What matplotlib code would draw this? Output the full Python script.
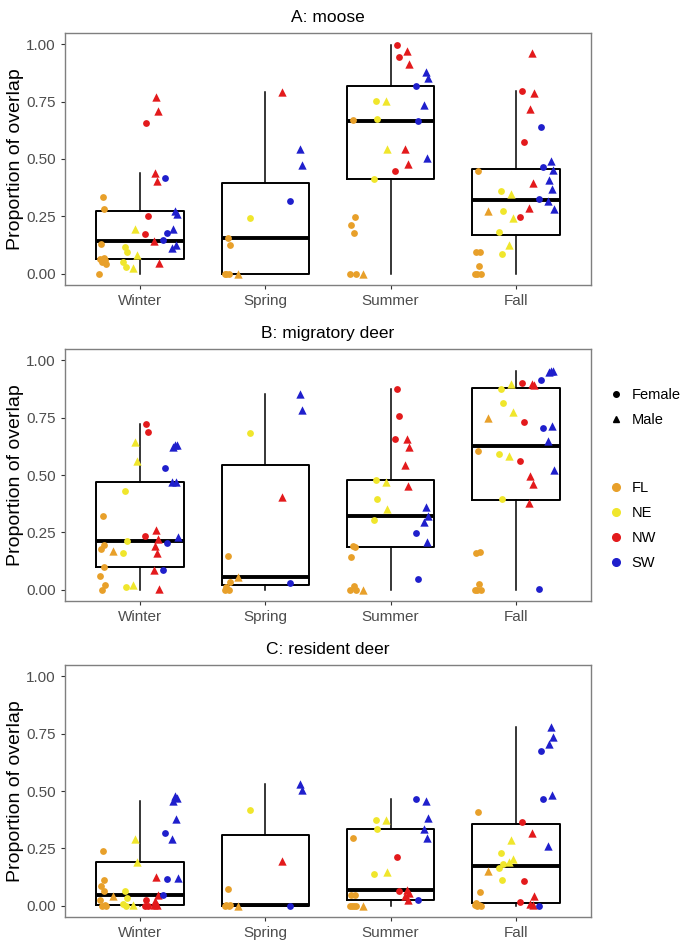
"""
Seasonal overlap proportions: moose, migratory deer, resident deer
"""
import numpy as np
import matplotlib.pyplot as plt
from matplotlib.lines import Line2D

plt.rcParams['font.family'] = ['Liberation Sans', 'DejaVu Sans']

seasons = ['Winter', 'Spring', 'Summer', 'Fall']
regions = ['FL', 'NE', 'NW', 'SW']
region_colors = {'FL': '#E8A02A', 'NE': '#F0E62C', 'NW': '#E31A1C', 'SW': '#1F1FCC'}
panel_titles = ['A: moose', 'B: migratory deer', 'C: resident deer']
y_ticks = [0.0, 0.25, 0.5, 0.75, 1.0]

# region -> (female values, male values)
moose_winter = {
    'FL': ([0.334, 0.283, 0.131, 0.068, 0.062, 0.058, 0.050, 0.042, 0.0], []),
    'NE': ([0.115, 0.092, 0.051, 0.028], [0.193, 0.083, 0.025]),
    'NW': ([0.658, 0.251, 0.173], [0.769, 0.711, 0.440, 0.404, 0.141, 0.048]),
    'SW': ([0.419, 0.177, 0.147], [0.273, 0.262, 0.193, 0.124, 0.113]),
}
moose_spring = {
    'FL': ([0.154, 0.126, 0.0, 0.0, 0.0], [0.0]),
    'NE': ([0.244], []),
    'NW': ([], [0.792]),
    'SW': ([0.318], [0.542, 0.472]),
}
moose_summer = {
    'FL': ([0.669, 0.249, 0.212, 0.179, 0.0, 0.0], [0.0]),
    'NE': ([0.754, 0.676, 0.411], [0.754, 0.545]),
    'NW': ([0.996, 0.946, 0.448], [0.972, 0.914, 0.542, 0.478]),
    'SW': ([0.820, 0.667], [0.879, 0.852, 0.735, 0.504]),
}
moose_fall = {
    'FL': ([0.448, 0.096, 0.092, 0.033, 0.0, 0.0, 0.0], [0.275]),
    'NE': ([0.359, 0.275, 0.180, 0.086], [0.347, 0.244, 0.125]),
    'NW': ([0.797, 0.574, 0.249], [0.964, 0.789, 0.718, 0.395, 0.286]),
    'SW': ([0.640, 0.464, 0.327], [0.493, 0.451, 0.408, 0.369, 0.318, 0.283]),
}

mig_winter = {
    'FL': ([0.322, 0.196, 0.177, 0.100, 0.058, 0.020, 0.0], [0.167]),
    'NE': ([0.430, 0.210, 0.158, 0.013], [0.645, 0.561, 0.022]),
    'NW': ([0.723, 0.687, 0.235], [0.259, 0.220, 0.188, 0.159, 0.084, 0.003]),
    'SW': ([0.530, 0.203, 0.087], [0.633, 0.633, 0.623, 0.470, 0.470, 0.230]),
}
mig_spring = {
    'FL': ([0.148, 0.033, 0.012, 0.0, 0.0], [0.055]),
    'NE': ([0.683], []),
    'NW': ([], [0.406]),
    'SW': ([0.028], [0.852, 0.783]),
}
mig_summer = {
    'FL': ([0.188, 0.187, 0.142, 0.017, 0.0, 0.0], [0.0]),
    'NE': ([0.477, 0.394, 0.304], [0.468, 0.352]),
    'NW': ([0.875, 0.759, 0.658], [0.655, 0.623, 0.545, 0.454]),
    'SW': ([0.249, 0.048], [0.362, 0.322, 0.293, 0.206]),
}
mig_fall = {
    'FL': ([0.603, 0.165, 0.161, 0.025, 0.0, 0.0, 0.0], [0.749]),
    'NE': ([0.874, 0.816, 0.593, 0.394], [0.897, 0.777, 0.584]),
    'NW': ([0.901, 0.733, 0.559], [0.899, 0.891, 0.497, 0.459, 0.377]),
    'SW': ([0.916, 0.703, 0.004], [0.952, 0.952, 0.949, 0.714, 0.649, 0.523]),
}

res_winter = {
    'FL': ([0.240, 0.110, 0.087, 0.062, 0.023, 0.001, 0.0, 0.0], [0.041]),
    'NE': ([0.062, 0.031, 0.007, 0.0], [0.292, 0.189, 0.001]),
    'NW': ([0.026, 0.0, 0.0], [0.125, 0.044, 0.019, 0.004, 0.004]),
    'SW': ([0.315, 0.116, 0.047], [0.480, 0.468, 0.455, 0.379, 0.289, 0.121]),
}
res_spring = {
    'FL': ([0.071, 0.004, 0.004, 0.0, 0.0], [0.0]),
    'NE': ([0.419], []),
    'NW': ([], [0.195]),
    'SW': ([0.0], [0.529, 0.504]),
}
res_summer = {
    'FL': ([0.295, 0.045, 0.045, 0.0, 0.0, 0.0, 0.0], [0.0]),
    'NE': ([0.372, 0.336, 0.137], [0.375, 0.147]),
    'NW': ([0.211, 0.065], [0.067, 0.055, 0.041, 0.026]),
    'SW': ([0.467, 0.026], [0.456, 0.381, 0.334, 0.297]),
}
res_fall = {
    'FL': ([0.410, 0.058, 0.012, 0.001, 0.001, 0.0, 0.0], [0.150]),
    'NE': ([0.228, 0.180, 0.166, 0.113], [0.286, 0.205, 0.189]),
    'NW': ([0.366, 0.106, 0.016], [0.318, 0.041, 0.007, 0.003]),
    'SW': ([0.676, 0.467, 0.0], [0.779, 0.736, 0.706, 0.481, 0.259]),
}

panels = [
    [moose_winter, moose_spring, moose_summer, moose_fall],
    [mig_winter, mig_spring, mig_summer, mig_fall],
    [res_winter, res_spring, res_summer, res_fall],
]

# dodge positions (x offsets from season centre)
region_offset = {'FL': -0.26, 'NE': -0.08, 'NW': 0.09, 'SW': 0.24}
sex_offset = [-0.04, 0.04]
spread = [0.0, 0.5, -0.5, 0.25, -0.75, 0.75, -0.25, 1.0, -1.0]
spread_w = 0.03


def draw_panel(ax, season_data, title):
    box_data = []
    for sd in season_data:
        vals = []
        for r in regions:
            vals += sd[r][0] + sd[r][1]
        box_data.append(vals)

    ax.boxplot(box_data, positions=range(1, 5), widths=0.7, whis=1.5,
               showfliers=False, showcaps=False,
               boxprops=dict(color='black', lw=1.4),
               whiskerprops=dict(color='black', lw=1.1),
               medianprops=dict(color='black', lw=2.8), zorder=1)

    for i, sd in enumerate(season_data):
        for r in regions:
            for s, marker, size in [(0, 'o', 24), (1, '^', 36)]:
                vals = sd[r][s]
                xs = [i + 1 + region_offset[r] + sex_offset[s] +
                      spread[k % len(spread)] * spread_w for k in range(len(vals))]
                ax.scatter(xs, vals, marker=marker, s=size, color=region_colors[r],
                           linewidths=0, zorder=3)

    ax.set_xlim(0.4, 4.6)
    ax.set_ylim(-0.05, 1.05)
    ax.set_xticks(range(1, 5))
    ax.set_xticklabels(seasons)
    ax.set_yticks(y_ticks)
    ax.set_yticklabels([f'{t:.2f}' for t in y_ticks])
    ax.tick_params(labelsize=11, colors='#333333', length=3, width=0.8,
                   labelcolor='#4D4D4D')
    ax.set_ylabel('Proportion of overlap', fontsize=14, labelpad=2)
    ax.set_title(title, fontsize=12.5, pad=8)
    for sp in ax.spines.values():
        sp.set_color('#7F7F7F')
        sp.set_linewidth(1.0)


fig = plt.figure(figsize=(6.85, 9.47), dpi=100)
W, H = 685, 947
frames = [(33, 285), (349, 601), (665, 917)]
for (top, bottom), season_data, title in zip(frames, panels, panel_titles):
    ax = fig.add_axes([65 / W, 1 - bottom / H, 526 / W, (bottom - top) / H])
    draw_panel(ax, season_data, title)

sex_handles = [Line2D([], [], ls='', marker='o', color='black', ms=4),
               Line2D([], [], ls='', marker='^', color='black', ms=5)]
fig.legend(sex_handles, ['Female', 'Male'], loc='upper left',
           bbox_to_anchor=(601 / W, 1 - 382 / H), frameon=False,
           fontsize=10.5, handletextpad=0.5, labelspacing=0.8,
           handlelength=1.2, borderaxespad=0)
reg_handles = [Line2D([], [], ls='', marker='o', color=region_colors[r], ms=5.5)
               for r in regions]
fig.legend(reg_handles, regions, loc='upper left',
           bbox_to_anchor=(601 / W, 1 - 475 / H), frameon=False,
           fontsize=10.5, handletextpad=0.5, labelspacing=0.75,
           handlelength=1.2, borderaxespad=0)

fig.savefig('out.png', dpi=100, facecolor='white')
